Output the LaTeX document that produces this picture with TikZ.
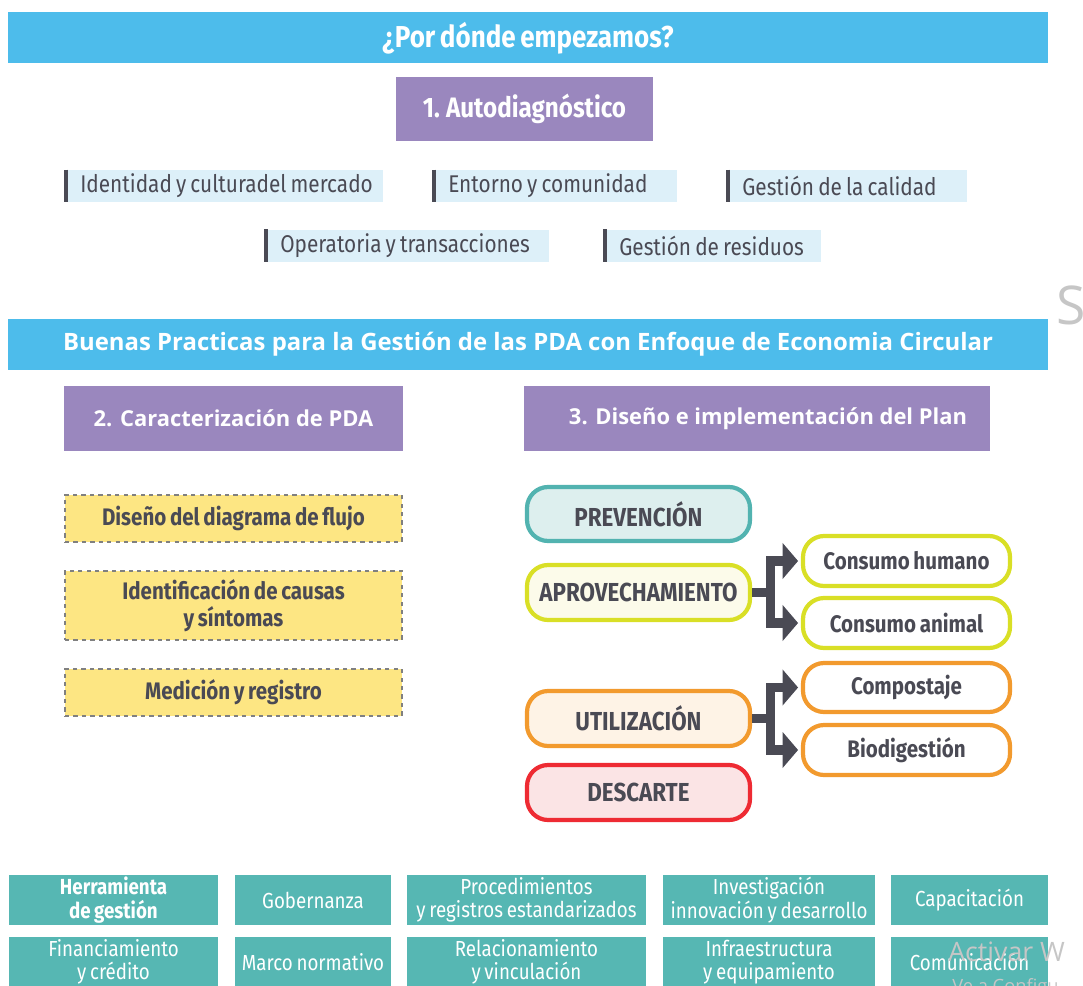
\documentclass[tikz,border=0pt]{standalone}
\usepackage{fontspec}
\setmainfont{Fira Sans}
\newfontfamily\cond{Fira Sans}[FakeStretch=0.86, WordSpace=0.75]
\newfontfamily\wide{Open Sans}
\usetikzlibrary{arrows.meta}

\definecolor{skyb}{HTML}{4DBCEB}
\definecolor{lila}{HTML}{9A87BE}
\definecolor{tagbg}{HTML}{DDF0F9}
\definecolor{ink}{HTML}{4A4A54}
\definecolor{sand}{HTML}{FDE683}
\definecolor{toolc}{HTML}{56B7B3}
\definecolor{prevb}{HTML}{52B3B0}
\definecolor{prevf}{HTML}{DDEFEE}
\definecolor{aprob}{HTML}{D9DF26}
\definecolor{aprof}{HTML}{FCFBEA}
\definecolor{utilb}{HTML}{F29A2E}
\definecolor{utilf}{HTML}{FEF3E6}
\definecolor{descb}{HTML}{EE2B33}
\definecolor{descf}{HTML}{FBE4E5}

\def\px{0.025cm}   % one pixel of the reference
\tikzset{
  banner/.style={fill=skyb, text=white, inner sep=0pt, minimum width=1040*\px, minimum height=51*\px},
  head/.style={fill=lila, text=white, inner sep=0pt},
  tag/.style={fill=tagbg, text=ink, anchor=west, inner sep=0pt,
    minimum height=32*\px, font=\cond\fontsize{17.2}{19}\selectfont},
  tagline/.style={draw=ink, line width=4*\px, xshift=-2*\px},
  stepbox/.style={fill=sand, draw=gray, dashed, line width=1.3pt, inner sep=0pt, align=center,
    text=ink, minimum width=337*\px, font=\cond\bfseries\fontsize{17}{19}\selectfont},
  pill/.style={rounded corners=15pt, line width=3pt, inner sep=0pt, text=ink, align=center,
    font=\cond\bfseries\fontsize{18.5}{20}\selectfont},
  side/.style={pill, minimum width=207*\px, fill=white, font=\cond\bfseries\fontsize{17}{20}\selectfont},
  branch/.style={draw=ink, line width=6.5pt, line join=miter, shorten >=2pt,
    -{Triangle[length=11pt, width=25pt]}},
  tool/.style={fill=toolc, text=white, inner sep=0pt, align=center, minimum height=50*\px,
    font=\cond\fontsize{15.5}{16.5}\selectfont},
  water/.style={text=gray!45, inner sep=0pt, anchor=west}
}

\begin{document}
\begin{tikzpicture}[x=0.025cm, y=-0.025cm]
  \useasboundingbox (0,0) rectangle (1083,985);
  \clip (0,0) rectangle (1083,985);

  % first block
  \node[banner, font=\cond\bfseries\fontsize{21.5}{24}\selectfont] (ask) at (528,38) {¿Por dónde empezamos?};
  \node[head, minimum width=257*\px, minimum height=64*\px, font=\cond\bfseries\fontsize{20}{22}\selectfont]
    (auto) at (524.5,109) {1. Autodiagnóstico};
  \foreach \n/\x/\y/\w/\txt in {idn/66/186/317/{Identidad y culturadel mercado},
      ent/434/186/243/{Entorno y comunidad}, cal/728/186/239/{Gestión de la calidad},
      ope/266/245.5/283/{Operatoria y transacciones}, res/605/245.5/216/{Gestión de residuos}}
  { \pgfmathsetmacro\tw{(\w-14)*0.025}
    \node[tag] (\n) at (\x,\y) {\hspace*{0.35cm}\makebox[\tw cm][l]{\txt}};
    \draw[tagline] (\n.north west) -- (\n.south west); }

  % second block
  \node[banner, font=\wide\bfseries\fontsize{17}{20}\selectfont] (good) at (528,344.5)
    {Buenas Practicas para la Gestión de las PDA con Enfoque de Economia Circular};
  \node[head, minimum width=339*\px, minimum height=65*\px, font=\wide\bfseries\fontsize{15.6}{18}\selectfont]
    (carac) at (233.5,418.5) {2. Caracterización de PDA};
  \node[head, minimum width=466*\px, minimum height=65*\px, font=\wide\bfseries\fontsize{15.6}{18}\selectfont]
    (plan) at (757,418.5) {\hspace*{0.55cm}3. Diseño e implementación del Plan};

  \node[stepbox, minimum height=47*\px] (flujo) at (233.5,518.5) {Diseño del diagrama de flujo};
  \node[stepbox, minimum height=69*\px] (causa) at (233.5,605.5) {Identificación de causas\\y síntomas};
  \node[stepbox, minimum height=47*\px] (medic) at (233.5,692.5) {Medición y registro};

  \node[pill, draw=prevb, fill=prevf, minimum width=223*\px, minimum height=54*\px] (prev) at (638.5,514) {PREVENCIÓN};
  \node[pill, draw=aprob, fill=aprof, minimum width=223*\px, minimum height=55*\px] (aprov) at (638.5,592.5) {APROVECHAMIENTO};
  \node[pill, draw=utilb, fill=utilf, minimum width=223*\px, minimum height=55*\px] (util) at (638.5,718.5) {UTILIZACIÓN};
  \node[pill, draw=descb, fill=descf, minimum width=223*\px, minimum height=55*\px] (desc) at (638.5,792.5) {DESCARTE};

  \node[side, draw=aprob, minimum height=50*\px] (human) at (906.5,561) {Consumo humano};
  \node[side, draw=aprob, minimum height=50*\px] (anim) at (906.5,623) {Consumo animal};
  \node[side, draw=utilb, minimum height=49*\px] (comp) at (906.5,687.5) {Compostaje};
  \node[side, draw=utilb, minimum height=50*\px] (biod) at (906.5,750) {Biodigestión};

  \draw[branch] (aprov.east) -- ++(18,0) |- (human.west);
  \draw[branch] (aprov.east) -- ++(18,0) |- (anim.west);
  \draw[branch] (util.east) -- ++(18,0) |- (comp.west);
  \draw[branch] (util.east) -- ++(18,0) |- (biod.west);

  % bottom tools
  \foreach \n/\x/\w/\txt in {herr/113.5/209/{\bfseries Herramienta\\\bfseries de gestión},
      gob/313/156/{Gobernanza}, proc/526.5/239/{Procedimientos\\y registros estandarizados},
      inv/769/212/{Investigación\\innovación y desarrollo}, capa/969.5/157/{Capacitación}}
    \node[tool, minimum width=\w*\px] (\n) at (\x,900) {\txt};
  \foreach \n/\x/\w/\txt in {fin/113.5/209/{Financiamiento\\y crédito},
      marco/313/156/{Marco normativo}, rel/526.5/239/{Relacionamiento\\y vinculación},
      infra/769/212/{Infraestructura\\y equipamiento}, comu/969.5/157/{Comunicación}}
    \node[tool, minimum width=\w*\px] (\n) at (\x,962) {\txt};

  % screen leftovers
  \node[water, font=\wide\fontsize{38}{38}\selectfont] (sletter) at (1056,305) {S};
  \node[water, font=\wide\fontsize{19}{19}\selectfont] (activ) at (948,952) {Activar W};
  \node[water, font=\wide\fontsize{13}{13}\selectfont] (confg) at (952,988) {Ve a Configu};
\end{tikzpicture}
\end{document}
